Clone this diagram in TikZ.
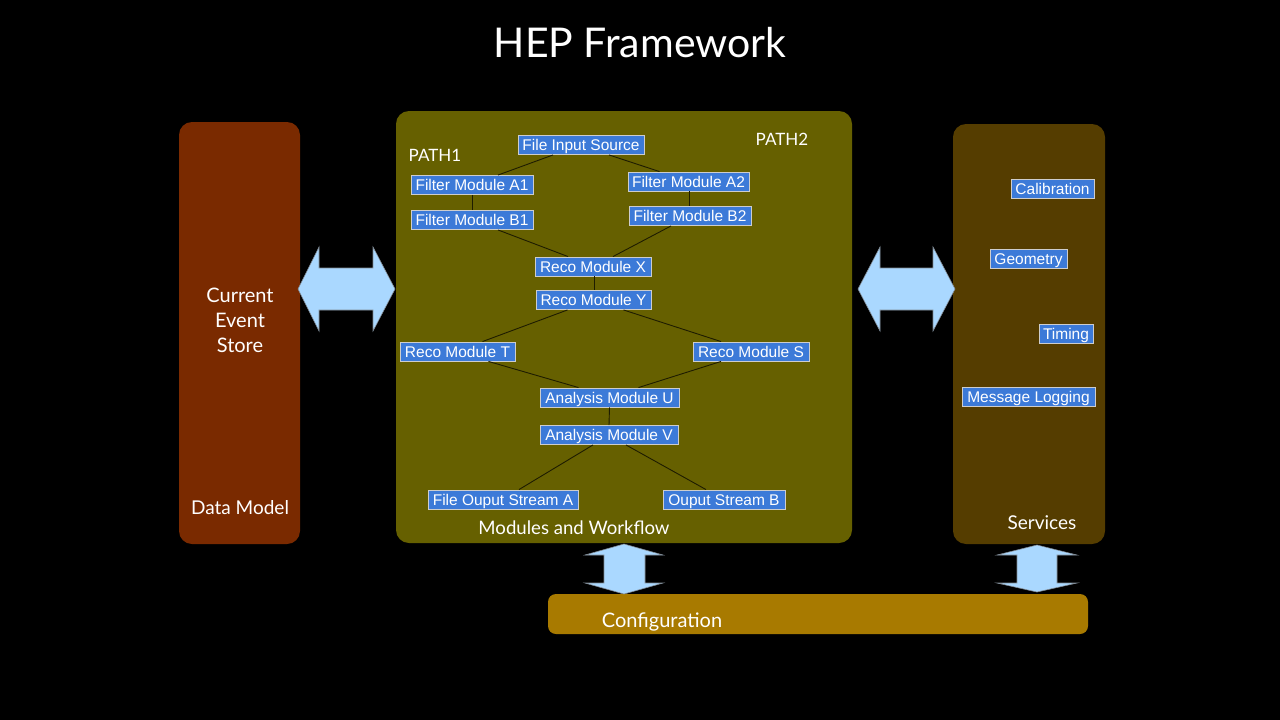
\documentclass[tikz,border=0pt]{standalone}
\usepackage{fontspec}
\setmainfont{Liberation Sans}
\newfontfamily\gill{Lato}
\definecolor{dmcol}{RGB}{122,42,0}
\definecolor{mwcol}{RGB}{102,96,0}
\definecolor{svcol}{RGB}{85,61,0}
\definecolor{cfcol}{RGB}{168,122,0}
\definecolor{modblue}{RGB}{60,122,216}
\definecolor{modedge}{RGB}{205,205,205}
\definecolor{arrblue}{RGB}{170,216,255}
\definecolor{arredge}{RGB}{130,140,150}
\definecolor{linkcol}{RGB}{30,28,0}
\tikzset{
  panel/.style={rounded corners=13pt},
  mod/.style={fill=modblue, draw=modedge, line width=0.9pt, text=white,
    font=\fontsize{15.5}{18}\selectfont, inner xsep=3pt, inner ysep=0pt,
    text height=12pt, text depth=1pt,
    minimum height=19pt, anchor=center},
  lbl/.style={text=white, font=\gill\fontsize{19}{25}\selectfont, align=center},
  link/.style={draw=linkcol, line width=0.9pt},
  fatarrow/.style={fill=arrblue, draw=arredge, line width=0.6pt}
}
\begin{document}
\begin{tikzpicture}[x=1pt,y=-1pt]
\useasboundingbox[fill=black] (0,0) rectangle (1280,720);
% title
\node[text=white, font=\gill\fontsize{41}{48}\selectfont] (title) at (640,43) {HEP Framework};
% panels
\fill[dmcol, panel] (179,122) rectangle (300,544);
\fill[mwcol, panel] (396,111) rectangle (852,543);
\fill[svcol, panel] (953,124) rectangle (1105,544);
\fill[cfcol, rounded corners=8pt] (548,594) rectangle (1088,634);
% panel labels
\node[lbl, font=\gill\fontsize{20}{25}\selectfont] (ces) at (240,320) {Current\\Event\\Store};
\node[lbl] (dm) at (240,508) {Data Model};
\node[lbl, font=\gill\fontsize{18.6}{25}\selectfont] (mw) at (574,528) {Modules and Workflow};
\node[lbl] (sv) at (1042,523) {Services};
\node[lbl, font=\gill\fontsize{20}{25}\selectfont] (cf) at (662,622) {Configuration};
\node[lbl, font=\gill\fontsize{17}{20}\selectfont] (p1) at (435,155) {PATH1};
\node[lbl, font=\gill\fontsize{17}{20}\selectfont] (p2) at (782,139) {PATH2};
% big arrows
\draw[fatarrow] (298,289) -- (319,247) -- (319,268) -- (373,268) -- (373,247) -- (395,289)
  -- (373,331) -- (373,310) -- (319,310) -- (319,331) -- cycle;
\draw[fatarrow] (858,289) -- (880,247) -- (880,268) -- (933,268) -- (933,247) -- (955,289)
  -- (933,331) -- (933,310) -- (880,310) -- (880,331) -- cycle;
\draw[fatarrow] (624,544) -- (663,555) -- (645,555) -- (645,583) -- (663,583) -- (624,594)
  -- (585,583) -- (604,583) -- (604,555) -- (585,555) -- cycle;
\draw[fatarrow] (1037,545) -- (1077,555) -- (1057,555) -- (1057,583) -- (1077,583) -- (1037,592)
  -- (997,583) -- (1017,583) -- (1017,555) -- (997,555) -- cycle;
% modules
\node[mod, minimum width=126pt] (src) at (581,145) {File Input Source};
\node[mod, minimum width=122pt] (a1) at (472,185) {Filter Module A1};
\node[mod, minimum width=121pt] (a2) at (688.5,181.5) {Filter Module A2};
\node[mod, minimum width=122pt] (b1) at (472,220) {Filter Module B1};
\node[mod, minimum width=122pt] (b2) at (690,216) {Filter Module B2};
\node[mod, minimum width=116pt] (x) at (593,266.5) {Reco Module X};
\node[mod, minimum width=115pt] (y) at (593.5,300) {Reco Module Y};
\node[mod, minimum width=115pt] (t) at (457.5,351.5) {Reco Module T};
\node[mod, minimum width=116pt] (s) at (751,351.5) {Reco Module S};
\node[mod, minimum width=139pt] (u) at (609.5,397.5) {Analysis Module U};
\node[mod, minimum width=138pt] (v) at (609,435) {Analysis Module V};
\node[mod, minimum width=150pt] (fa) at (503,499.5) {File Ouput Stream A};
\node[mod, minimum width=122pt] (ob) at (724,499.5) {Ouput Stream B};
% services
\node[mod, minimum width=83pt] (cal) at (1052.5,188.5) {Calibration};
\node[mod, minimum width=77pt] (geo) at (1028.5,258.5) {Geometry};
\node[mod, minimum width=54pt] (tim) at (1066,333.5) {Timing};
\node[mod, minimum width=133pt] (msg) at (1028.5,397) {Message Logging};
% links
\draw[link] ([xshift=-28pt]src.south) -- ([xshift=26pt]a1.north);
\draw[link] ([xshift=28pt]src.south) -- ([xshift=-29pt]a2.north);
\draw[link] (a1.south) -- (b1.north);
\draw[link] ([xshift=0.5pt]a2.south) -- ([xshift=-1pt]b2.north);
\draw[link] ([xshift=26pt]b1.south) -- ([xshift=-25pt]x.north);
\draw[link] ([xshift=-19pt]b2.south) -- ([xshift=20pt]x.north);
\draw[link] ([xshift=1pt]x.south) -- ([xshift=0.5pt]y.north);
\draw[link] ([xshift=-26pt]y.south) -- ([xshift=25pt]t.north);
\draw[link] ([xshift=30pt]y.south) -- ([xshift=-30pt]s.north);
\draw[link] ([xshift=31pt]t.south) -- ([xshift=-31pt]u.north);
\draw[link] ([xshift=-30pt]s.south) -- ([xshift=29pt]u.north);
\draw[link] (u.south) -- (v.north);
\draw[link] ([xshift=-16pt]v.south) -- ([xshift=16pt]fa.north);
\draw[link] ([xshift=17pt]v.south) -- ([xshift=-18pt]ob.north);
\end{tikzpicture}
\end{document}
